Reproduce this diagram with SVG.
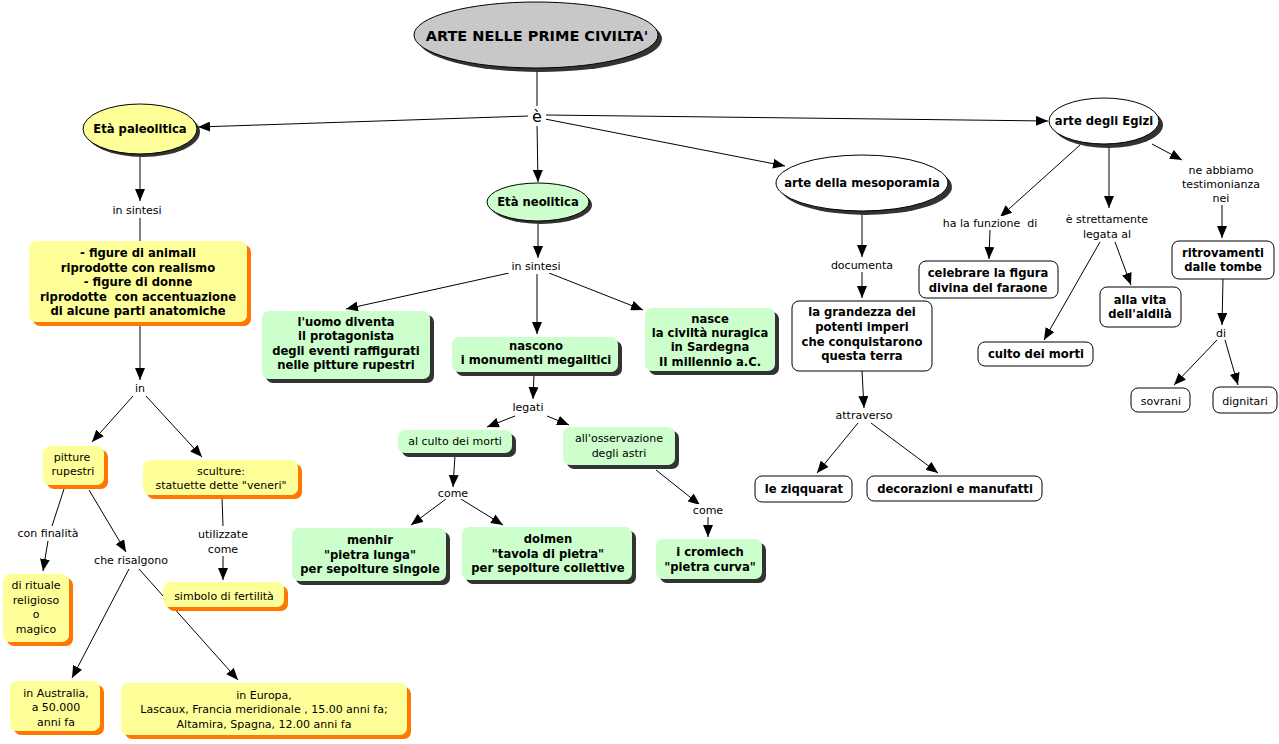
<svg xmlns="http://www.w3.org/2000/svg" width="1279" height="744" viewBox="0 0 1279 744">
<style>
text{font-family:"DejaVu Sans","Verdana",sans-serif;font-size:11px;fill:#000;text-anchor:middle}
.b{font-weight:bold;font-size:11.6px}
.yl{fill:#ffff99}
.ys{fill:#ff7700}
.gr{fill:#ccffcc}
.gs{fill:#333}
.wh{fill:#fff;stroke:#000;stroke-width:1}
.el{stroke:#000;stroke-width:1}
#connectors path{fill:none;stroke:#000;stroke-width:1}
#connectors path.a{marker-end:url(#ah)}
</style>
<defs>
<marker id="ah" viewBox="0 0 12 10" refX="12" refY="5" markerWidth="12" markerHeight="10" markerUnits="userSpaceOnUse" orient="auto"><path d="M0,0 L12,5 L0,10 z" fill="#000"/></marker>
</defs>
<rect width="1279" height="744" fill="#fff"/>
<g id="connectors">
<path d="M537,68 L537,108"/>
<path class="a" d="M529,116 L198,127"/>
<path class="a" d="M537,124 L538,182"/>
<path class="a" d="M545,119 L785,166"/>
<path class="a" d="M546,115 L1048,121"/>
<path class="a" d="M140,155 L140,201"/>
<path d="M140,218 L140,241"/>
<path class="a" d="M140,325 L140,380"/>
<path class="a" d="M133,396 L92,442"/>
<path class="a" d="M146,396 L202,457"/>
<path d="M64,489 L52,526"/>
<path class="a" d="M48,541 L43,571"/>
<path class="a" d="M89,490 L126,552"/>
<path class="a" d="M129,569 L72,678"/>
<path class="a" d="M139,569 L238,680"/>
<path d="M222,497 L223,526"/>
<path class="a" d="M223,556 L223,580"/>
<path class="a" d="M538,222 L538,258"/>
<path class="a" d="M509,273 L346,309"/>
<path class="a" d="M537,274 L537,334"/>
<path class="a" d="M549,273 L643,310"/>
<path class="a" d="M534,374 L533,399"/>
<path class="a" d="M515,416 L487,427"/>
<path class="a" d="M547,416 L569,425"/>
<path class="a" d="M455,455 L453,487"/>
<path class="a" d="M446,499 L411,525"/>
<path class="a" d="M461,499 L503,525"/>
<path class="a" d="M656,470 L700,505"/>
<path class="a" d="M708,517 L708,537"/>
<path class="a" d="M862,212 L862,257"/>
<path class="a" d="M862,272 L862,298"/>
<path class="a" d="M862,371 L864,408"/>
<path class="a" d="M858,423 L817,473"/>
<path class="a" d="M871,423 L938,473"/>
<path class="a" d="M1080,145 L1000,217"/>
<path class="a" d="M990,230 L989,259"/>
<path class="a" d="M1109,146 L1109,208"/>
<path class="a" d="M1100,242 L1044,340"/>
<path class="a" d="M1115,242 L1131,285"/>
<path class="a" d="M1152,144 L1182,160"/>
<path class="a" d="M1222,205 L1222,238"/>
<path class="a" d="M1223,279 L1222,325"/>
<path class="a" d="M1217,340 L1174,385"/>
<path class="a" d="M1225,340 L1238,385"/>
</g>
<g id="labels">
<rect x="528" y="106" width="18" height="20" fill="#fff"/>
<text x="537" y="122" style="font-size:16px">è</text>
<rect x="106" y="203" width="66" height="14" fill="#fff"/>
<text x="137" y="214">in sintesi</text>
<rect x="132" y="381" width="16" height="13" fill="#fff"/>
<text x="140" y="392">in</text>
<rect x="13" y="526" width="70" height="14" fill="#fff"/>
<text x="48" y="537">con finalità</text>
<rect x="90" y="553" width="82" height="14" fill="#fff"/>
<text x="131" y="564">che risalgono</text>
<rect x="193" y="526" width="60" height="29" fill="#fff"/>
<text x="223" y="538">utilizzate</text>
<text x="223" y="553">come</text>
<rect x="505" y="259" width="64" height="14" fill="#fff"/>
<text x="536" y="270">in sintesi</text>
<rect x="511" y="400" width="36" height="15" fill="#fff"/>
<text x="528" y="411">legati</text>
<rect x="436" y="487" width="34" height="12" fill="#fff"/>
<text x="453" y="497">come</text>
<rect x="691" y="504" width="34" height="12" fill="#fff"/>
<text x="708" y="514">come</text>
<rect x="830" y="258" width="64" height="14" fill="#fff"/>
<text x="862" y="269">documenta</text>
<rect x="832" y="408" width="64" height="14" fill="#fff"/>
<text x="864" y="419">attraverso</text>
<rect x="936" y="216" width="108" height="14" fill="#fff"/>
<text x="990" y="227">ha la funzione&#160; di</text>
<rect x="1060" y="211" width="94" height="30" fill="#fff"/>
<text x="1107" y="223">è strettamente</text>
<text x="1107" y="238">legata al</text>
<rect x="1180" y="162" width="86" height="43" fill="#fff"/>
<text x="1221" y="174">ne abbiamo</text>
<text x="1221" y="188">testimonianza</text>
<text x="1221" y="202">nei</text>
<rect x="1214" y="326" width="14" height="14" fill="#fff"/>
<text x="1221" y="337">di</text>
</g>
<g id="n-title">
<ellipse cx="540" cy="39" rx="122" ry="33" class="gs"/>
<ellipse cx="536" cy="35" rx="122" ry="33" fill="#c8c8c8" class="el"/>
<text x="537" y="41" class="b" style="font-size:14.5px">ARTE NELLE PRIME CIVILTA'</text>
</g>
<g id="n-paleo">
<ellipse cx="143" cy="132" rx="57" ry="25" class="gs"/>
<ellipse cx="140" cy="129" rx="57" ry="25" class="yl el"/>
<text x="140" y="133" class="b">Età paleolitica</text>
</g>
<g id="n-sintesi-paleo">
<rect x="33" y="245" width="218" height="81" rx="7" class="ys"/>
<rect x="29" y="241" width="218" height="81" rx="7" class="yl"/>
<text class="b" x="138" y="257">- figure di animali</text>
<text class="b" x="138" y="272">riprodotte con realismo</text>
<text class="b" x="138" y="286">- figure di donne</text>
<text class="b" x="138" y="301">riprodotte&#160; con accentuazione</text>
<text class="b" x="138" y="315">di alcune parti anatomiche</text>
</g>
<g id="n-pitture">
<rect x="47" y="450" width="61" height="39" rx="7" class="ys"/>
<rect x="43" y="446" width="61" height="39" rx="7" class="yl"/>
<text x="72" y="461">pitture</text>
<text x="73" y="475">rupestri</text>
</g>
<g id="n-sculture">
<rect x="147" y="464" width="155" height="35" rx="7" class="ys"/>
<rect x="143" y="460" width="155" height="35" rx="7" class="yl"/>
<text x="221" y="475">sculture:</text>
<text x="221" y="489">statuette dette "veneri"</text>
</g>
<g id="n-rituale">
<rect x="7" y="578" width="66" height="68" rx="7" class="ys"/>
<rect x="3" y="574" width="66" height="68" rx="7" class="yl"/>
<text x="36" y="589">di rituale</text>
<text x="36" y="604">religioso</text>
<text x="36" y="618">o</text>
<text x="36" y="633">magico</text>
</g>
<g id="n-simbolo">
<rect x="167" y="586" width="121" height="25" rx="7" class="ys"/>
<rect x="163" y="582" width="121" height="25" rx="7" class="yl"/>
<text x="224" y="600">simbolo di fertilità</text>
</g>
<g id="n-australia">
<rect x="14" y="685" width="90" height="50" rx="7" class="ys"/>
<rect x="10" y="681" width="90" height="50" rx="7" class="yl"/>
<text x="56" y="697">in Australia,</text>
<text x="56" y="711">a 50.000</text>
<text x="56" y="726">anni fa</text>
</g>
<g id="n-europa">
<rect x="125" y="687" width="286" height="52" rx="7" class="ys"/>
<rect x="121" y="683" width="286" height="52" rx="7" class="yl"/>
<text x="264" y="699">in Europa,</text>
<text x="264" y="713">Lascaux, Francia meridionale , 15.00 anni fa;</text>
<text x="264" y="728">Altamira, Spagna, 12.00 anni fa</text>
</g>
<g id="n-neo">
<ellipse cx="541" cy="205" rx="51" ry="19" class="gs"/>
<ellipse cx="538" cy="202" rx="51" ry="19" class="gr el"/>
<text x="538" y="206" class="b">Età neolitica</text>
</g>
<g id="n-uomo">
<rect x="266" y="315" width="168" height="68" rx="7" class="gs"/>
<rect x="262" y="311" width="168" height="68" rx="7" class="gr"/>
<text class="b" x="346" y="326">l'uomo diventa</text>
<text class="b" x="346" y="340">il protagonista</text>
<text class="b" x="346" y="355">degli eventi raffigurati</text>
<text class="b" x="346" y="369">nelle pitture rupestri</text>
</g>
<g id="n-nascono">
<rect x="456" y="341" width="166" height="35" rx="7" class="gs"/>
<rect x="452" y="337" width="166" height="35" rx="7" class="gr"/>
<text class="b" x="536" y="350">nascono</text>
<text class="b" x="536" y="364">i monumenti megalitici</text>
</g>
<g id="n-nasce">
<rect x="649" y="312" width="130" height="63" rx="7" class="gs"/>
<rect x="645" y="308" width="130" height="63" rx="7" class="gr"/>
<text class="b" x="710" y="323">nasce</text>
<text class="b" x="710" y="337">la civiltà nuragica</text>
<text class="b" x="710" y="351">in Sardegna</text>
<text class="b" x="710" y="366">II millennio a.C.</text>
</g>
<g id="n-culto-neo">
<rect x="402" y="434" width="114" height="23" rx="7" class="gs"/>
<rect x="398" y="430" width="114" height="23" rx="7" class="gr"/>
<text x="455" y="445">al culto dei morti</text>
</g>
<g id="n-astri">
<rect x="567" y="431" width="112" height="38" rx="7" class="gs"/>
<rect x="563" y="427" width="112" height="38" rx="7" class="gr"/>
<text x="619" y="442">all'osservazione</text>
<text x="619" y="457">degli astri</text>
</g>
<g id="n-menhir">
<rect x="296" y="532" width="154" height="53" rx="7" class="gs"/>
<rect x="292" y="528" width="154" height="53" rx="7" class="gr"/>
<text class="b" x="370" y="544">menhir</text>
<text class="b" x="370" y="559">"pietra lunga"</text>
<text class="b" x="370" y="573">per sepolture singole</text>
</g>
<g id="n-dolmen">
<rect x="466" y="531" width="170" height="53" rx="7" class="gs"/>
<rect x="462" y="527" width="170" height="53" rx="7" class="gr"/>
<text class="b" x="548" y="543">dolmen</text>
<text class="b" x="548" y="558">"tavola di pietra"</text>
<text class="b" x="548" y="572">per sepolture collettive</text>
</g>
<g id="n-cromlech">
<rect x="660" y="543" width="106" height="40" rx="7" class="gs"/>
<rect x="656" y="539" width="106" height="40" rx="7" class="gr"/>
<text class="b" x="710" y="556">i cromlech</text>
<text class="b" x="710" y="571">"pietra curva"</text>
</g>
<g id="n-meso">
<ellipse cx="866" cy="187" rx="86" ry="28" class="gs"/>
<ellipse cx="862" cy="183" rx="86" ry="28" class="wh"/>
<text x="862" y="187" class="b">arte della mesoporamia</text>
</g>
<g id="n-grandezza">
<rect x="792" y="301" width="140" height="70" rx="7" class="wh"/>
<text class="b" x="862" y="316">la grandezza dei</text>
<text class="b" x="862" y="331">potenti imperi</text>
<text class="b" x="862" y="346">che conquistarono</text>
<text class="b" x="862" y="360">questa terra</text>
</g>
<g id="n-ziqquarat">
<rect x="755" y="476" width="97" height="26" rx="7" class="wh"/>
<text class="b" x="804" y="493">le ziqquarat</text>
</g>
<g id="n-decorazioni">
<rect x="867" y="476" width="175" height="25" rx="7" class="wh"/>
<text class="b" x="955" y="493">decorazioni e manufatti</text>
</g>
<g id="n-egizi">
<ellipse cx="1108" cy="125" rx="55" ry="23" class="gs"/>
<ellipse cx="1104" cy="121" rx="55" ry="23" class="wh"/>
<text x="1104" y="125" class="b">arte degli Egizi</text>
</g>
<g id="n-celebrare">
<rect x="919" y="261" width="139" height="37" rx="7" class="wh"/>
<text class="b" x="988" y="277">celebrare la figura</text>
<text class="b" x="988" y="292">divina del faraone</text>
</g>
<g id="n-culto-egizi">
<rect x="978" y="342" width="115" height="24" rx="7" class="wh"/>
<text class="b" x="1036" y="358">culto dei morti</text>
</g>
<g id="n-aldila">
<rect x="1100" y="287" width="81" height="40" rx="7" class="wh"/>
<text class="b" x="1140" y="304">alla vita</text>
<text class="b" x="1140" y="318">dell'aldilà</text>
</g>
<g id="n-ritrovamenti">
<rect x="1172" y="241" width="102" height="38" rx="7" class="wh"/>
<text class="b" x="1223" y="257">ritrovamenti</text>
<text class="b" x="1223" y="271">dalle tombe</text>
</g>
<g id="n-sovrani">
<rect x="1131" y="388" width="59" height="24" rx="7" class="wh"/>
<text x="1161" y="405">sovrani</text>
</g>
<g id="n-dignitari">
<rect x="1213" y="387" width="64" height="26" rx="7" class="wh"/>
<text x="1245" y="405">dignitari</text>
</g>
</svg>
